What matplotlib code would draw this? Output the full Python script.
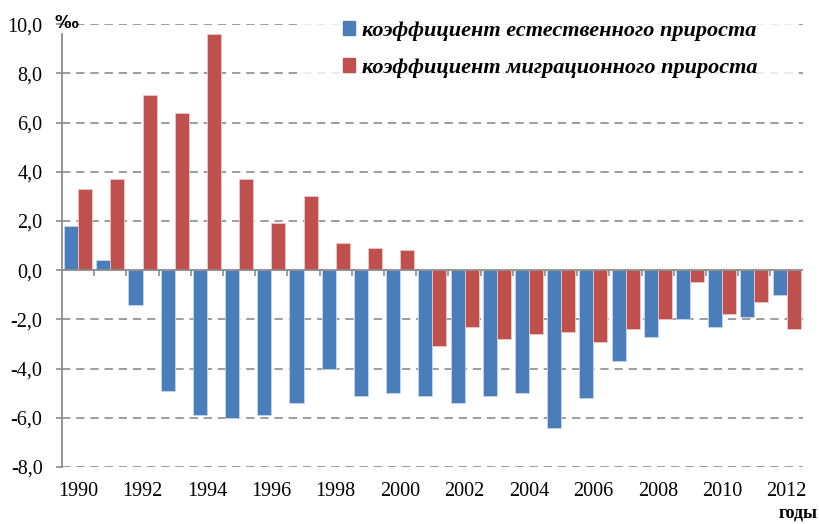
import numpy as np
import matplotlib
matplotlib.use("Agg")
import matplotlib.pyplot as plt
from matplotlib.ticker import FixedLocator, FuncFormatter
from matplotlib.patches import Patch

plt.rcParams['font.family'] = ['Liberation Serif', 'DejaVu Serif']

# data
years = list(range(1990, 2013))
natural = [1.8, 0.4, -1.4, -4.9, -5.9, -6.0, -5.9, -5.4, -4.0, -5.1, -5.0, -5.1,
           -5.4, -5.1, -5.0, -6.4, -5.2, -3.7, -2.7, -2.0, -2.3, -1.9, -1.0]
migration = [3.3, 3.7, 7.1, 6.4, 9.6, 3.7, 1.9, 3.0, 1.1, 0.9, 0.8, -3.1,
             -2.3, -2.8, -2.6, -2.5, -2.9, -2.4, -2.0, -0.5, -1.8, -1.3, -2.4]
series_names = ["коэффициент естественного прироста",
                "коэффициент миграционного прироста"]
y_ticks = [-8, -6, -4, -2, 0, 2, 4, 6, 8, 10]

blue = '#4A7EBB'
red = '#C0504D'
grid_col = '#8c8c8c'

fig = plt.figure(figsize=(8.19, 5.24), dpi=100)
ax = fig.add_axes([0.0757, 0.1088, 0.9043, 0.8452])

x = np.arange(len(years))
w = 0.435
ax.bar(x - w / 2, natural, w, color=blue, edgecolor='#c6d6ea', linewidth=0.6, zorder=3)
ax.bar(x + w / 2, migration, w, color=red, edgecolor='#ecc9c8', linewidth=0.6, zorder=3)

ymin, ymax = -8, 10
ax.set_xlim(-0.5, len(years) - 0.5)
ax.set_ylim(ymin, ymax)

# grid lines (dashed), zero line solid
for v in y_ticks:
    if v != 0:
        ax.axhline(v, color=grid_col, lw=1.2, ls=(0, (5, 3.5)), zorder=1)
ax.axhline(0, color=grid_col, lw=1.3, zorder=4)

for s in ['top', 'right', 'bottom']:
    ax.spines[s].set_visible(False)
ax.spines['left'].set_color(grid_col)
ax.spines['left'].set_linewidth(1.3)
ax.spines['left'].set_bounds(ymin, 9.6)

ax.set_yticks(y_ticks)
ax.yaxis.set_major_formatter(FuncFormatter(lambda v, p: f"{v:.1f}".replace('.', ',')))
ax.tick_params(axis='y', length=4, width=1.2, color=grid_col, pad=10, labelsize=14.5)

ax.set_xticks(x[::2])
ax.set_xticklabels([str(y) for y in years[::2]])
ax.tick_params(axis='x', length=0, pad=11, labelsize=14.5)

# tick marks on the zero line between categories
sec = ax.secondary_xaxis((0 - ymin) / (ymax - ymin))
sec.spines['bottom'].set_visible(False)
sec.xaxis.set_major_locator(FixedLocator(np.arange(0.5, len(years) - 0.5, 1.0)))
sec.tick_params(axis='x', length=4.5, width=1.2, color=grid_col, labelbottom=False)

handles = [Patch(facecolor=blue, edgecolor=blue), Patch(facecolor=red, edgecolor=red)]
leg = fig.legend(handles, series_names, loc='upper left', bbox_to_anchor=(0.356, 1.058),
                 prop={'weight': 'bold', 'style': 'italic', 'size': 16},
                 frameon=True, fancybox=False, borderpad=1.8, labelspacing=0.77,
                 handlelength=0.55, handleheight=0.55, handletextpad=0.3)
leg.get_frame().set_facecolor('white')
leg.get_frame().set_edgecolor('white')
leg.set_zorder(5)

fig.text(0.067, 0.956, "‰", fontsize=12, fontweight='bold', family='DejaVu Sans',
         ha='left', va='center')
fig.text(0.998, 0.004, "годы", fontsize=13, fontweight='bold', ha='right', va='bottom')

fig.savefig("out.png", dpi=100)
